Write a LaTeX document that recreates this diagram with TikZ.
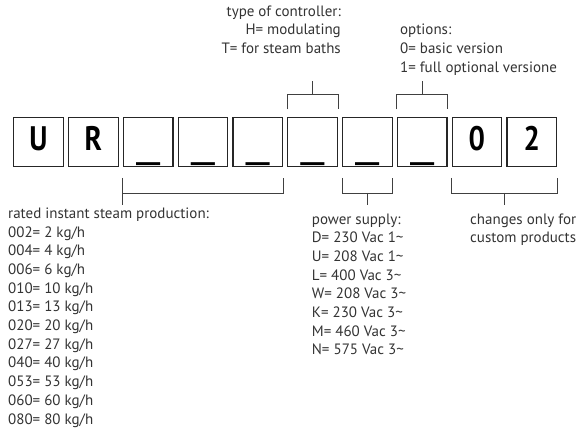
\documentclass[tikz,border=0pt]{standalone}
\usepackage{graphicx}
\usepackage{fontspec}
\setmainfont{PT Sans}
\usetikzlibrary{calc}
\begin{document}
\begin{tikzpicture}[x=1pt,y=-1pt,
  cell/.style={draw=black!85, line width=1.2pt, minimum width=49.6pt, minimum height=49.3pt, inner sep=0pt, anchor=north west},
  letter/.style={font=\fontsize{34}{34}\bfseries\selectfont, inner sep=0pt, anchor=base},
  blankmark/.style={font=\fontsize{34}{34}\bfseries\selectfont, inner sep=0pt, anchor=base},
  lbl/.style={font=\fontsize{15}{18.7}\selectfont, text=black!80, inner sep=0pt},
  brk/.style={draw=black!75, line width=0.8pt}]
\useasboundingbox (0,0) rectangle (579,432);
\foreach \i in {1,...,10} \node[cell] (b\i) at ({13.1+54.8*(\i-1)},116.7) {};
\node[letter] (l1) at ($(b1.north)+(0,33.3)$) {\scalebox{0.85}[1]{U}};
\node[letter] (l2) at ($(b2.north)+(0,33.3)$) {\scalebox{0.85}[1]{R}};
\node[letter] (l9) at ($(b9.north)+(0,33.3)$) {\scalebox{0.85}[1]{0}};
\node[letter] (l10) at ($(b10.north)+(0,33.3)$) {\scalebox{0.85}[1]{2}};
\foreach \i in {3,...,8} \node[blankmark] (u\i) at ($(b\i.north)+(0,43)$) {\scalebox{1.6}[0.8]{\_}};
% text
\node[lbl, anchor=base east] (ctrl) at (341,16) {\begin{tabular}[t]{@{}r@{}}type of controller:\\ H= modulating\\ T= for steam baths\end{tabular}};
\node[lbl, anchor=base west] (opt) at (400,34.7) {\begin{tabular}[t]{@{}l@{}}options:\\ 0= basic version\\ 1= full optional versione\end{tabular}};
\node[lbl, anchor=base west] (rated) at (8,218.3) {\begin{tabular}[t]{@{}l@{}}rated instant steam production:\\ 002= 2 kg/h\\ 004= 4 kg/h\\ 006= 6 kg/h\\ 010= 10 kg/h\\ 013= 13 kg/h\\ 020= 20 kg/h\\ 027= 27 kg/h\\ 040= 40 kg/h\\ 053= 53 kg/h\\ 060= 60 kg/h\\ 080= 80 kg/h\end{tabular}};
\node[lbl, anchor=base west] (power) at (311.7,224) {\begin{tabular}[t]{@{}l@{}}power supply:\\ D= 230 Vac 1\textasciitilde\\ U= 208 Vac 1\textasciitilde\\ L= 400 Vac 3\textasciitilde\\ W= 208 Vac 3\textasciitilde\\ K= 230 Vac 3\textasciitilde\\ M= 460 Vac 3\textasciitilde\\ N= 575 Vac 3\textasciitilde\end{tabular}};
\node[lbl, anchor=base west] (chg) at (470,224) {\begin{tabular}[t]{@{}l@{}}changes only for\\ custom products\end{tabular}};
% brackets above
\draw[brk] (b6.north west) ++(0,-7.4) |- ($(b6.north east)+(0,-22.4)$) -- ($(b6.north east)+(0,-7.4)$);
\coordinate (c6) at ($(b6.north)+(0,-35.7)$);
\draw[brk] ($(b6.north)+(0,-22.4)$) -- (c6);
\draw[brk] (b8.north west) ++(0,-7.4) |- ($(b8.north east)+(0,-22.4)$) -- ($(b8.north east)+(0,-7.4)$);
\coordinate (c8) at ($(b8.north)+(0,-35.7)$);
\draw[brk] ($(b8.north)+(0,-22.4)$) -- (c8);
% brackets below
\draw[brk] ($(b3.south west)+(0,10.7)$) |- ($(b5.south east)+(0,25.7)$) -- ($(b5.south east)+(0,10.7)$);
\coordinate (c3) at ($(b3.south west)+(0,38)$);
\draw[brk] ($(b3.south west)+(0,25.7)$) -- (c3);
\draw[brk] ($(b7.south west)+(0,10.7)$) |- ($(b7.south east)+(0,25.7)$) -- ($(b7.south east)+(0,10.7)$);
\coordinate (c7) at ($(b7.south)+(0,38)$);
\draw[brk] ($(b7.south)+(0,25.7)$) -- (c7);
\draw[brk] ($(b9.south west)+(0,10.7)$) |- ($(b10.south east)+(0,25.7)$) -- ($(b10.south east)+(0,10.7)$);
\coordinate (c9) at ($(b9.south west)!0.5!(b10.south east)+(0,38)$);
\draw[brk] ($(b9.south west)!0.5!(b10.south east)+(0,25.7)$) -- (c9);
\end{tikzpicture}
\end{document}
